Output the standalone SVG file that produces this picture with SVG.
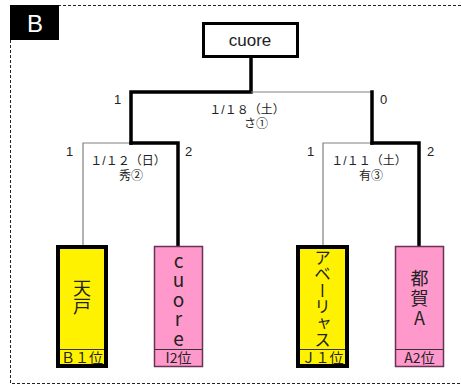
<svg xmlns="http://www.w3.org/2000/svg" width="461" height="385" viewBox="0 0 461 385">
<style>
.frame{fill:none;stroke:#222;stroke-width:1;stroke-dasharray:3 2}
.thick{fill:none;stroke:#000;stroke-width:3.5;stroke-linecap:square}
.thin{fill:none;stroke:#808080;stroke-width:1.2}
.jp{font-family:"Noto Sans CJK JP","Liberation Sans",sans-serif;fill:#222}
.num{font-family:"Liberation Sans","Noto Sans CJK JP",sans-serif;font-size:13px;fill:#222}
.date{font-family:"Liberation Sans","Noto Sans CJK JP",sans-serif;font-size:12px;text-anchor:middle;fill:#222}
.yel{fill:#FFF200;stroke:#000;stroke-width:4}
.pink{fill:#FF99CC;stroke:#663355;stroke-width:1.5}
.div{stroke:#333;stroke-width:1}
.vert{writing-mode:vertical-rl;text-orientation:upright}
.lbl{font-size:14px;text-anchor:middle}
</style>
<path class="frame" d="M461 5.5H10.5V383.5H461"/>
<g id="tag">
<rect x="10" y="5" width="49" height="35" fill="#000"/>
<text x="35" y="32" font-family="Liberation Sans,sans-serif" font-size="24" fill="#fff" text-anchor="middle">B</text>
</g>
<g id="connectors">
<path class="thick" d="M251 57V92H131V143"/>
<path class="thin" d="M251 92H372"/>
<path class="thick" d="M372 92V143"/>
<path class="thin" d="M131 143H83V245"/>
<path class="thick" d="M131 143H178V246"/>
<path class="thin" d="M372 143H323V245"/>
<path class="thick" d="M372 143H419V246"/>
</g>
<g id="labels">
<text class="num" x="114" y="104">1</text>
<text class="num" x="380" y="104">0</text>
<text class="date" x="247" y="114">１/１８（土）</text>
<text class="date" x="256" y="128">さ①</text>
<text class="num" x="66" y="156">1</text>
<text class="num" x="185" y="156">2</text>
<text class="date" x="128" y="165">１/１２（日）</text>
<text class="date" x="131" y="179.5">秀②</text>
<text class="num" x="307" y="156">1</text>
<text class="num" x="427" y="156">2</text>
<text class="date" x="369" y="165">１/１１（土）</text>
<text class="date" x="371" y="179.5">有③</text>
</g>
<g id="champion">
<rect x="203.5" y="23.5" width="94" height="33" fill="#fff" stroke="#000" stroke-width="3"/>
<text x="250" y="46" font-family="Liberation Sans,sans-serif" font-size="17" fill="#222" text-anchor="middle">cuore</text>
</g>
<g id="team-amado">
<rect class="yel" x="58" y="247" width="48" height="119"/>
<line class="div" x1="60" y1="349.5" x2="104" y2="349.5"/>
<text class="jp vert" x="82" y="279" font-size="18">天戸</text>
<text class="jp lbl" x="82" y="363">Ｂ１位</text>
</g>
<g id="team-cuore">
<rect class="pink" x="154.5" y="246.5" width="48" height="120"/>
<line class="div" x1="155" y1="349.5" x2="202" y2="349.5"/>
<text class="jp vert" x="178.5" y="251" font-size="19" letter-spacing="0.5">cuore</text>
<text class="jp lbl" x="178.5" y="363">I2位</text>
</g>
<g id="team-aberiasu">
<rect class="yel" x="298" y="247" width="49" height="119"/>
<line class="div" x1="300" y1="349.5" x2="345" y2="349.5"/>
<text class="jp" x="322.5" y="249" font-size="16.5" writing-mode="vertical-rl">アベーリャス</text>
<text class="jp lbl" x="322.5" y="363">Ｊ１位</text>
</g>
<g id="team-tsuga">
<rect class="pink" x="395.5" y="246.5" width="48" height="120"/>
<line class="div" x1="396" y1="349.5" x2="443" y2="349.5"/>
<text class="jp vert" x="419.5" y="269" font-size="18" letter-spacing="2">都賀A</text>
<text class="jp lbl" x="419.5" y="363">A2位</text>
</g>
</svg>
